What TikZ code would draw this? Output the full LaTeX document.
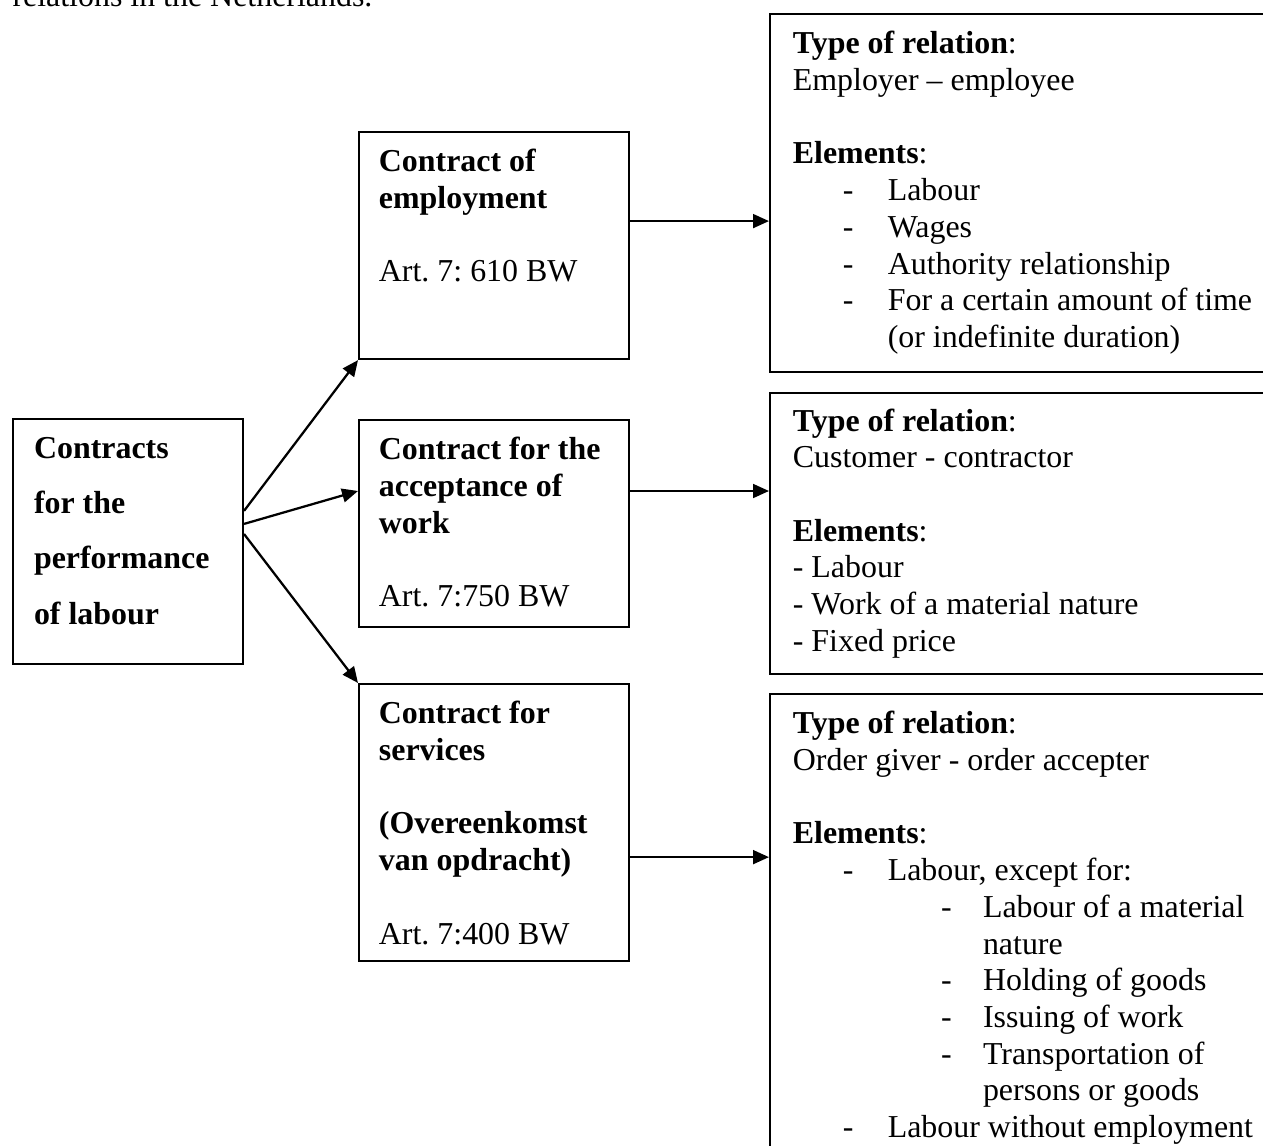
\documentclass[tikz,border=0pt]{standalone}
\usepackage{fontspec}
\setmainfont{Liberation Serif}
\usetikzlibrary{arrows.meta}
\frenchspacing
\newcommand{\dashit}[1]{\hspace*{18.8pt}\makebox[16.9pt][l]{-}#1}
\newcommand{\subdashit}[1]{\hspace*{55.7pt}\makebox[15.8pt][l]{-}#1}
\newcommand{\gap}{\\[13.8pt]}

\begin{document}
\begin{tikzpicture}[x=0.376pt,y=-0.376pt,>={Triangle[length=6pt,width=5.2pt]},
  box/.style={draw,line width=0.75pt,anchor=north west,align=flush left,inner ysep=0pt,text height=15pt,font=\fontsize{12pt}{13.8pt}\selectfont},
  mid/.style={box,inner xsep=7.5pt,text width=86.5pt},
  rel/.style={box,inner xsep=8.6pt,text width=190pt},
  arr/.style={->,line width=0.85pt}]
\useasboundingbox (0,0) rectangle (1263,1146);
\node[anchor=base west,inner sep=0pt,font=\fontsize{12pt}{13.8pt}\selectfont] (cap) at (12,7) {relations in the Netherlands.};
% left
\node[box,inner xsep=7.9pt,text width=70.7pt,text depth=77.1pt,font=\bfseries\fontsize{12pt}{20.7pt}\selectfont] (lab) at (12,418) {Contracts\\for the\\performance\\of labour};
% middle
\node[mid,text depth=70.4pt] (emp) at (358,131) {\textbf{Contract of}\\\textbf{employment}\gap Art. 7: 610 BW};
\node[mid,text depth=62.8pt] (acc) at (358,419) {\textbf{Contract for the}\\\textbf{acceptance of}\\\textbf{work}\gap Art. 7:750 BW};
\node[mid,text depth=89.2pt] (srv) at (358,683) {\textbf{Contract for}\\\textbf{services}\gap\textbf{(Overeenkomst}\\\textbf{van opdracht)}\gap Art. 7:400 BW};
% right
\node[rel,text depth=119.6pt] (rel1) at (769,13) {\textbf{Type of relation}:\\Employer – employee\gap\textbf{Elements}:\\\dashit{Labour}\\\dashit{Wages}\\\dashit{Authority relationship}\\\dashit{For a certain amount of time}\\\hspace*{35.7pt}(or indefinite duration)};
\node[rel,text height=14.3pt,text depth=91.4pt] (rel2) at (769,392) {\textbf{Type of relation}:\\Customer - contractor\gap\textbf{Elements}:\\- Labour\\- Work of a material nature\\- Fixed price};
\node[rel,text depth=168pt] (rel3) at (769,693) {\textbf{Type of relation}:\\Order giver - order accepter\gap\textbf{Elements}:\\\dashit{Labour, except for:}\\\subdashit{Labour of a material}\\\hspace*{71.5pt}nature\\\subdashit{Holding of goods}\\\subdashit{Issuing of work}\\\subdashit{Transportation of}\\\hspace*{71.5pt}persons or goods\\\dashit{Labour without employment}};
% arrows
\draw[arr] ([yshift=11.5pt]lab.east) -- (emp.south west);
\draw[arr] ([yshift=6.6pt]lab.east) -- ([yshift=12.2pt]acc.west);
\draw[arr] ([yshift=2.8pt]lab.east) -- (srv.north west);
\draw[arr] ([yshift=9.2pt]emp.east) -- ([yshift=9.2pt]emp.east -| rel1.west);
\draw[arr] ([yshift=12.2pt]acc.east) -- ([yshift=12.2pt]acc.east -| rel2.west);
\draw[arr] ([yshift=-13pt]srv.east) -- ([yshift=-13pt]srv.east -| rel3.west);
\end{tikzpicture}
\end{document}
